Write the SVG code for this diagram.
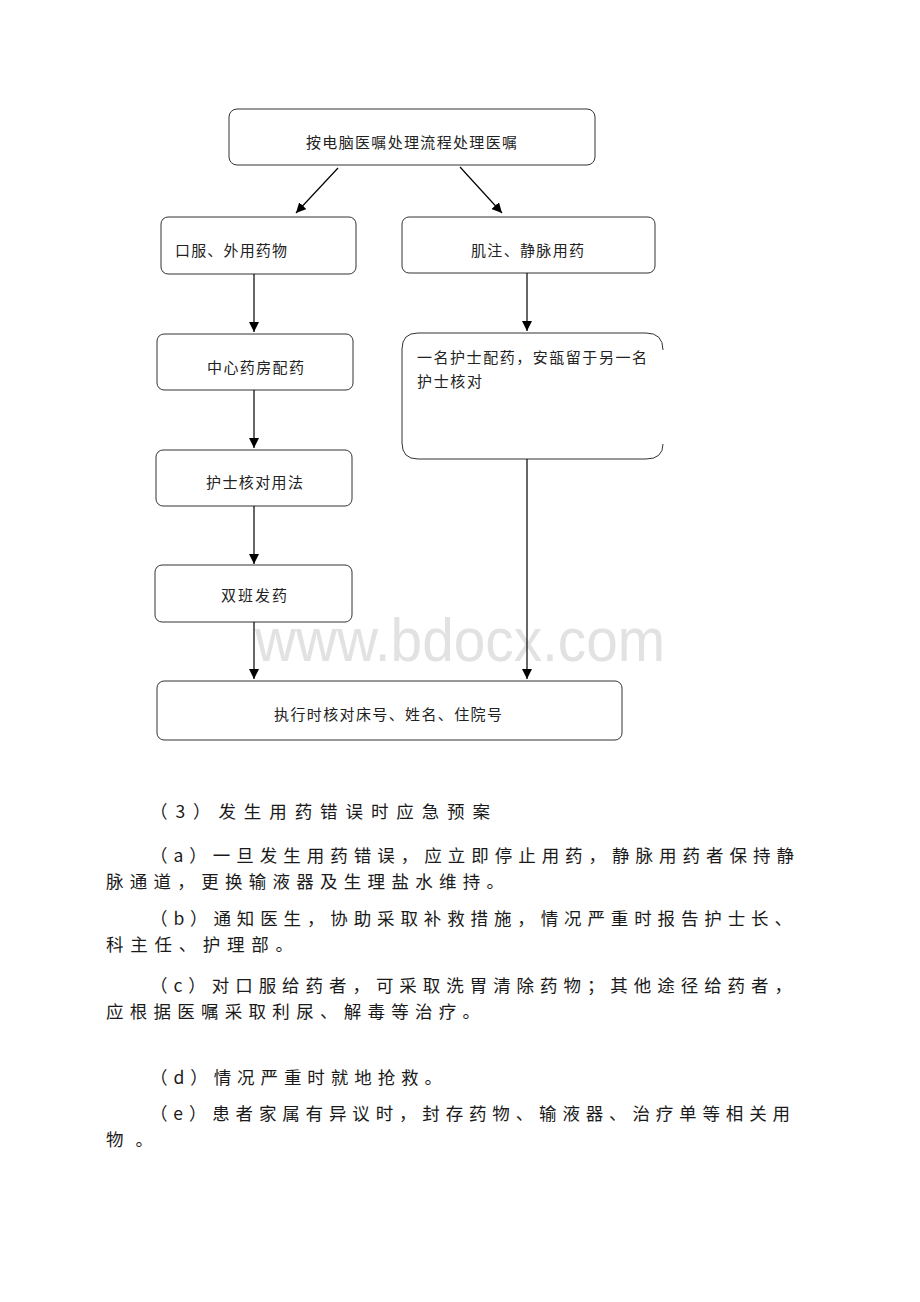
<svg xmlns="http://www.w3.org/2000/svg" width="920" height="1302" viewBox="0 0 920 1302">
<style>
.box{fill:#fff;stroke:#333;stroke-width:1}
.bt{font-family:"Noto Sans CJK SC","Noto Sans",sans-serif;font-size:15px;fill:#222}
.p{font-family:"Noto Sans CJK SC","Noto Sans",sans-serif;font-size:17.5px;fill:#1a1a1a}
.wm{font-family:"Liberation Sans",Arial,sans-serif;font-size:61px;fill:#e2e2e2}
.c{stroke:#000;stroke-width:1.2;fill:none}
</style>
<defs>
<marker id="ah" markerUnits="userSpaceOnUse" markerWidth="12" markerHeight="10" refX="10" refY="5" orient="auto">
<path d="M0,0 L10,5 L0,10 Z" fill="#000"/>
</marker>
</defs>
<rect width="920" height="1302" fill="#fff"/>
<text class="wm" x="255" y="661" textLength="410" lengthAdjust="spacingAndGlyphs">www.bdocx.com</text>

<g id="n-top"><rect class="box" x="229" y="109" width="366" height="56" rx="8"/><text class="bt" x="306" y="148" textLength="211" lengthAdjust="spacing">按电脑医嘱处理流程处理医嘱</text></g>
<g id="n-oral"><rect class="box" x="161" y="217" width="195" height="57" rx="7"/><text class="bt" x="175" y="256" textLength="112" lengthAdjust="spacing">口服、外用药物</text></g>
<g id="n-iv"><rect class="box" x="402" y="217" width="253" height="56" rx="7"/><text class="bt" x="471" y="256" textLength="113" lengthAdjust="spacing">肌注、静脉用药</text></g>
<g id="n-pharmacy"><rect class="box" x="157" y="334" width="196" height="56" rx="7"/><text class="bt" x="207" y="373" textLength="97" lengthAdjust="spacing">中心药房配药</text></g>
<g id="n-nurse2"><path class="box" d="M663,350 Q663,333 646,333 L418,333 Q402,333 402,349 L402,443 Q402,459 418,459 L646,459 Q663,459 663,444"/><text class="bt" x="417" y="363" textLength="230" lengthAdjust="spacing">一名护士配药，安瓿留于另一名</text><text class="bt" x="417" y="387" textLength="65" lengthAdjust="spacing">护士核对</text></g>
<g id="n-check"><rect class="box" x="156" y="450" width="196" height="56" rx="7"/><text class="bt" x="206" y="488" textLength="97" lengthAdjust="spacing">护士核对用法</text></g>
<g id="n-dispense"><rect class="box" x="155" y="565" width="197" height="57" rx="7"/><text class="bt" x="221" y="601" textLength="66" lengthAdjust="spacing">双班发药</text></g>
<g id="n-exec"><rect class="box" x="157" y="681" width="465" height="59" rx="7"/><text class="bt" x="274" y="720" textLength="228" lengthAdjust="spacing">执行时核对床号、姓名、住院号</text></g>

<g id="connectors">
<line class="c" x1="338" y1="168" x2="296" y2="213" marker-end="url(#ah)"/>
<line class="c" x1="460" y1="167" x2="502" y2="213" marker-end="url(#ah)"/>
<line class="c" x1="254" y1="274" x2="254" y2="332" marker-end="url(#ah)"/>
<line class="c" x1="527" y1="273" x2="527" y2="331" marker-end="url(#ah)"/>
<line class="c" x1="254" y1="390" x2="254" y2="448" marker-end="url(#ah)"/>
<line class="c" x1="254" y1="506" x2="254" y2="564" marker-end="url(#ah)"/>
<line class="c" x1="254" y1="622" x2="254" y2="679" marker-end="url(#ah)"/>
<line class="c" x1="527" y1="459" x2="527" y2="679" marker-end="url(#ah)"/>
</g>

<g id="body-text">
<text class="p" x="150" y="818" textLength="340" lengthAdjust="spacing">（3）发生用药错误时应急预案</text>
<text class="p" x="150" y="862" textLength="644" lengthAdjust="spacing">（a）一旦发生用药错误，应立即停止用药，静脉用药者保持静</text>
<text class="p" x="106" y="888" textLength="398" lengthAdjust="spacing">脉通道，更换输液器及生理盐水维持。</text>
<text class="p" x="150" y="925" textLength="642" lengthAdjust="spacing">（b）通知医生，协助采取补救措施，情况严重时报告护士长、</text>
<text class="p" x="106" y="951" textLength="187" lengthAdjust="spacing">科主任、护理部。</text>
<text class="p" x="150" y="992" textLength="642" lengthAdjust="spacing">（c）对口服给药者，可采取洗胃清除药物；其他途径给药者，</text>
<text class="p" x="106" y="1018" textLength="374" lengthAdjust="spacing">应根据医嘱采取利尿、解毒等治疗。</text>
<text class="p" x="150" y="1084" textLength="292" lengthAdjust="spacing">（d）情况严重时就地抢救。</text>
<text class="p" x="150" y="1120" textLength="640" lengthAdjust="spacing">（e）患者家属有异议时，封存药物、输液器、治疗单等相关用</text>
<text class="p" x="106" y="1146" textLength="47" lengthAdjust="spacing">物。</text>
</g>
</svg>
